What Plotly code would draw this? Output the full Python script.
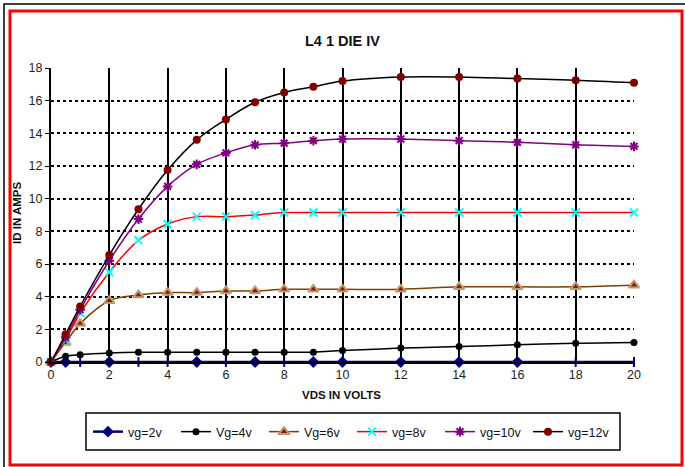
import plotly.graph_objects as go

# ---- data ----
vds = [0, 0.5, 1, 2, 3, 4, 5, 6, 7, 8, 9, 10, 12, 14, 16, 18, 20]
vg2 = [0, 0, 0, 0, 0, 0, 0, 0, 0, 0, 0, 0, 0, 0, 0, 0, 0]
vg4 = [0, 0.35, 0.45, 0.55, 0.6, 0.6, 0.6, 0.6, 0.6, 0.6, 0.6, 0.7, 0.85, 0.95, 1.05, 1.15, 1.2]
vg6 = [0, 1.2, 2.35, 3.75, 4.1, 4.25, 4.25, 4.35, 4.35, 4.45, 4.45, 4.45, 4.45, 4.6, 4.6, 4.6, 4.7]
vg8 = [0, 1.35, 3.0, 5.5, 7.45, 8.45, 8.9, 8.9, 9.0, 9.15, 9.15, 9.15, 9.15, 9.15, 9.15, 9.15, 9.15]
vg10 = [0, 1.5, 3.2, 6.2, 8.75, 10.75, 12.1, 12.8, 13.3, 13.4, 13.55, 13.65, 13.65, 13.55, 13.45, 13.3, 13.2]
vg12 = [0, 1.7, 3.4, 6.55, 9.35, 11.75, 13.6, 14.85, 15.9, 16.5, 16.85, 17.2, 17.45, 17.45, 17.35, 17.25, 17.1]

names = ["vg=2v", "Vg=4v", "Vg=6v", "vg=8v", "vg=10v", "vg=12v"]
x_ticks = [0, 2, 4, 6, 8, 10, 12, 14, 16, 18, 20]
y_ticks = [0, 2, 4, 6, 8, 10, 12, 14, 16, 18]

W, H = 685, 467
L, R, T, B = 51, 634, 68, 362


def px(x):
    return (x - L) / (R - L)


def py(y):
    return (B - y) / (B - T)


fig = go.Figure()

# vg=2v: some points appear as short vertical ticks in the reference
sym2 = ["diamond", "diamond", "line-ns", "diamond", "line-ns", "line-ns", "diamond",
        "line-ns", "diamond", "line-ns", "diamond", "diamond", "diamond", "diamond",
        "diamond", "line-ns", "line-ns"]

fig.add_trace(go.Scatter(x=vds, y=vg2, name=names[0], mode="lines+markers",
                         line=dict(color="#000080", width=2.5),
                         marker=dict(symbol=sym2, size=7, color="#000080",
                                     line=dict(color="#000080", width=2)),
                         cliponaxis=False))
fig.add_trace(go.Scatter(x=vds, y=vg4, name=names[1], mode="lines+markers",
                         line=dict(color="black", width=1.5, shape="spline"),
                         marker=dict(symbol="circle", size=7, color="black"),
                         cliponaxis=False))
fig.add_trace(go.Scatter(x=vds, y=vg6, name=names[2], mode="lines+markers",
                         line=dict(color="#804000", width=1.5, shape="spline"),
                         marker=dict(symbol="triangle-up", size=9, color="#8B1A1A",
                                     line=dict(color="#C09A6C", width=2)),
                         cliponaxis=False))
fig.add_trace(go.Scatter(x=vds, y=vg8, name=names[3], mode="lines+markers",
                         line=dict(color="#FF0000", width=1.5, shape="spline"),
                         marker=dict(symbol="x-thin", size=8, color="#00FFFF",
                                     line=dict(color="#00FFFF", width=2)),
                         cliponaxis=False))
fig.add_trace(go.Scatter(x=vds, y=vg10, name=names[4], mode="lines+markers",
                         line=dict(color="#800080", width=1.5, shape="spline"),
                         marker=dict(symbol="asterisk", size=8, color="#800080",
                                     line=dict(color="#800080", width=2)),
                         cliponaxis=False))
fig.add_trace(go.Scatter(x=vds, y=vg12, name=names[5], mode="lines+markers",
                         line=dict(color="black", width=1.5, shape="spline"),
                         marker=dict(symbol="circle", size=8, color="#800000"),
                         cliponaxis=False))

shapes = [
    # outer black frame
    dict(type="rect", xref="paper", yref="paper", x0=px(4), x1=px(690), y0=py(480), y1=py(4),
         line=dict(color="black", width=1.5), layer="below"),
    # red frame
    dict(type="rect", xref="paper", yref="paper", x0=px(10), x1=px(682), y0=py(465), y1=py(11),
         line=dict(color="#FF0000", width=3), layer="below"),
    # legend box
    dict(type="rect", xref="paper", yref="paper", x0=px(86), x1=px(620), y0=py(450), y1=py(413),
         line=dict(color="black", width=1.5)),
]

annotations = [
    dict(text="<b>L4 1 DIE IV</b>", xref="paper", yref="paper", x=px(342), y=py(41),
         showarrow=False, font=dict(family="Liberation Sans, Arial", size=14.5, color="#111"),
         xanchor="center", yanchor="middle"),
    dict(text="<b>ID IN AMPS</b>", xref="paper", yref="paper", x=px(17), y=py(213),
         showarrow=False, textangle=-90, font=dict(family="Liberation Sans, Arial", size=11.5, color="#111"),
         xanchor="center", yanchor="middle"),
    dict(text="<b>VDS IN VOLTS</b>", xref="paper", yref="paper", x=px(341), y=py(395),
         showarrow=False, font=dict(family="Liberation Sans, Arial", size=11.5, color="#111"),
         xanchor="center", yanchor="middle"),
]

fig.update_layout(
    width=W, height=H,
    margin=dict(l=L, r=W - R, t=T, b=H - B),
    paper_bgcolor="white", plot_bgcolor="white",
    font=dict(family="Liberation Sans, Arial", size=12, color="#222"),
    showlegend=True,
    legend=dict(orientation="h", x=px(88), y=py(432), xanchor="left", yanchor="middle",
                bgcolor="rgba(0,0,0,0)", borderwidth=0,
                entrywidth=43, entrywidthmode="pixels",
                font=dict(size=12.5, color="#111")),
    shapes=shapes,
    annotations=annotations,
    xaxis=dict(range=[0, 20], tickvals=x_ticks, ticktext=[str(v) for v in x_ticks],
               showgrid=True, gridcolor="black", gridwidth=2,
               showline=True, linecolor="black", linewidth=1.5,
               zeroline=False, ticks="", tickfont=dict(size=12.5, color="#222")),
    yaxis=dict(range=[0, 18], tickvals=y_ticks, ticktext=[str(v) for v in y_ticks],
               showgrid=True, gridcolor="black", gridwidth=1.5, griddash="dot",
               showline=True, linecolor="black", linewidth=2, mirror=False,
               zeroline=False, ticks="outside", ticklen=4, tickcolor="black",
               tickfont=dict(size=12.5, color="#222")),
)

fig.write_html("out.html", config={"displayModeBar": False},
               post_script="document.body.style.margin='0px';")
